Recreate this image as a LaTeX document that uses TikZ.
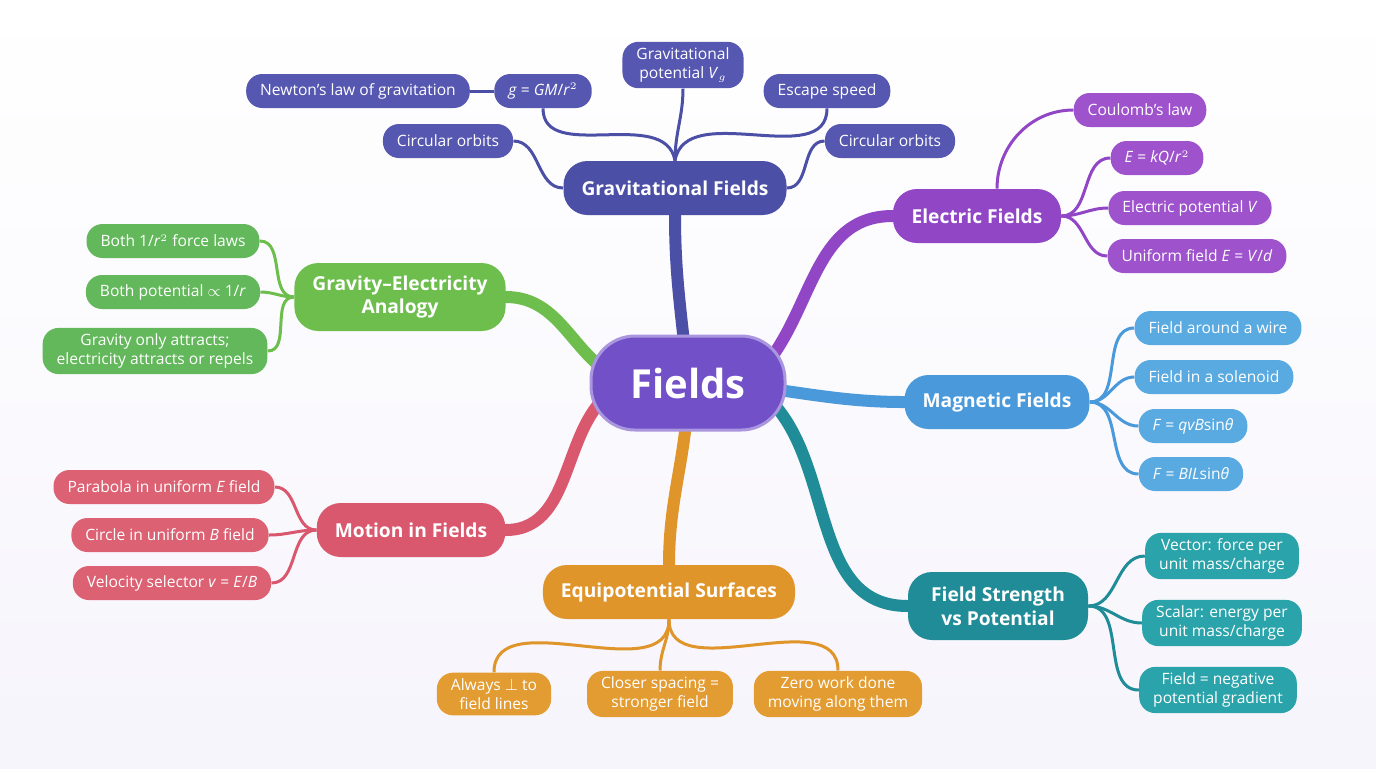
\documentclass[tikz,border=0pt]{standalone}
\usepackage{fontspec}
\setmainfont{Open Sans}
\usetikzlibrary{backgrounds}
\definecolor{cgrav}{HTML}{4C4FA6}\definecolor{lgrav}{HTML}{5557B0}
\definecolor{celec}{HTML}{9146C6}\definecolor{lelec}{HTML}{9E52CC}
\definecolor{cmag}{HTML}{4A9ADB}\definecolor{lmag}{HTML}{5AAAE2}
\definecolor{cfs}{HTML}{1F8C98}\definecolor{lfs}{HTML}{2BA3AA}
\definecolor{ceq}{HTML}{E0952A}\definecolor{leq}{HTML}{E39C32}
\definecolor{cmot}{HTML}{D9586E}\definecolor{lmot}{HTML}{DB6173}
\definecolor{cana}{HTML}{6DBE4D}\definecolor{lana}{HTML}{62B85A}
\definecolor{ccen}{HTML}{7150C8}
\tikzset{
 leaf/.style={fill=#1,text=white,rounded corners=8pt,inner xsep=7pt,inner ysep=3pt,minimum height=17pt,align=center,font=\fontsize{7.8}{9.3}\selectfont},
 main/.style={fill=#1,text=white,rounded corners=12pt,inner xsep=9pt,minimum height=27pt,align=center,font=\fontsize{9.6}{11.8}\selectfont\bfseries},
 br/.style={draw=#1,line width=6pt,line cap=round},
 lk/.style={draw=#1,line width=1.5pt},
}
\begin{document}
\begin{tikzpicture}[x=0.5pt,y=-0.5pt]
\node[fill=ccen,text=white,rounded corners=22pt,minimum width=97pt,minimum height=47pt,font=\fontsize{20}{24}\selectfont\bfseries,draw=ccen!60!white,line width=1.5pt] (c) at (688,383) {Fields};
% main
\node[main=cgrav,minimum width=110pt] (grav) at (675,188) {Gravitational Fields};
\node[main=celec,minimum width=84pt] (elec) at (977,216) {Electric Fields};
\node[main=cmag,minimum width=90pt] (mag) at (997,402) {Magnetic Fields};
\node[main=cfs,minimum width=90pt,minimum height=34pt] (fs) at (998,606) {Field Strength\\vs Potential};
\node[main=ceq,minimum width=123pt] (eq) at (669,592) {Equipotential Surfaces};
\node[main=cmot,minimum width=94pt] (mot) at (411,530) {Motion in Fields};
\node[main=cana,minimum width=104pt,minimum height=34pt] (ana) at (400,297) {Gravity–Electricity\\Analogy};
% grav leaves
\node[leaf=lgrav] (g0) at (358,91) {Newton’s law of gravitation};
\node[leaf=lgrav] (g1) at (543,91) {\textit{g} = \textit{GM}/\textit{r}$^2$};
\node[leaf=lgrav] (g2) at (683,65) {Gravitational\\potential \textit{V}$_g$};
\node[leaf=lgrav] (g3) at (827,91) {Escape speed};
\node[leaf=lgrav] (g4) at (448,141) {Circular orbits};
\node[leaf=lgrav] (g5) at (890,141) {Circular orbits};
% elec
\node[leaf=lelec] (e1) at (1140,110) {Coulomb’s law};
\node[leaf=lelec] (e2) at (1157,158) {\textit{E} = \textit{kQ}/\textit{r}$^2$};
\node[leaf=lelec] (e3) at (1190,208) {Electric potential \textit{V}};
\node[leaf=lelec] (e4) at (1197,256) {Uniform field \textit{E} = \textit{V}/\textit{d}};
% mag
\node[leaf=lmag] (m1) at (1218,328) {Field around a wire};
\node[leaf=lmag] (m2) at (1214,377) {Field in a solenoid};
\node[leaf=lmag] (m3) at (1193,426) {\textit{F} = \textit{qvB}sin\textit{θ}};
\node[leaf=lmag] (m4) at (1191,474) {\textit{F} = \textit{BIL}sin\textit{θ}};
% fs
\node[leaf=lfs] (f1) at (1222,556) {Vector: force per\\unit mass/charge};
\node[leaf=lfs] (f2) at (1222,623) {Scalar: energy per\\unit mass/charge};
\node[leaf=lfs] (f3) at (1218,690) {Field = negative\\potential gradient};
% eq
\node[leaf=leq] (q1) at (494,694) {Always $\perp$ to\\field lines};
\node[leaf=leq] (q2) at (660,694) {Closer spacing =\\stronger field};
\node[leaf=leq] (q3) at (838,694) {Zero work done\\moving along them};
% mot
\node[leaf=lmot] (t1) at (164,487) {Parabola in uniform \textit{E} field};
\node[leaf=lmot] (t2) at (170,535) {Circle in uniform \textit{B} field};
\node[leaf=lmot] (t3) at (172,583) {Velocity selector \textit{v} = \textit{E}/\textit{B}};
% ana
\node[leaf=lana] (a1) at (173,241) {Both 1/\textit{r}$^2$ force laws};
\node[leaf=lana] (a2) at (173,292) {Both potential $\propto$ 1/\textit{r}};
\node[leaf=lana] (a3) at (155,351) {Gravity only attracts;\\electricity attracts or repels};
\begin{scope}[on background layer]
\fill[top color=white,bottom color=ccen!6!white] (0,0) rectangle (1376,768);
\draw[br=cgrav] (c.center) to[out=95,in=-90] (grav.south);
\draw[br=celec] ([xshift=30pt]c.center) to[out=40,in=180] (elec.west);
\draw[br=cmag] (c.center) to[out=0,in=180] (mag.west);
\draw[br=cfs] ([xshift=30pt]c.center) to[out=-30,in=180] (fs.west);
\draw[br=ceq] (c.center) to[out=-90,in=90] (eq.north);
\draw[br=cmot] ([xshift=-30pt]c.center) to[out=200,in=0] (mot.east);
\draw[br=cana] ([xshift=-30pt]c.center) to[out=160,in=0] (ana.east);
\draw[lk=cgrav] (g0.east) -- (g1.west);
\draw[lk=cgrav] (grav.north) to[out=100,in=-90] (g1.south);
\draw[lk=cgrav] (grav.north) to[out=90,in=-90] (g2.south);
\draw[lk=cgrav] (grav.north) to[out=80,in=-90] (g3.south);
\draw[lk=cgrav] (grav.west) to[out=180,in=0] (g4.east);
\draw[lk=cgrav] (grav.east) to[out=0,in=180] (g5.west);
\draw[lk=celec] ([xshift=10pt]elec.north) to[out=90,in=180] (e1.west);
\foreach \n in {e2,e3,e4} \draw[lk=celec] (elec.east) to[out=0,in=180] (\n.west);
\foreach \n in {m1,m2,m3,m4} \draw[lk=cmag] (mag.east) to[out=0,in=180] (\n.west);
\foreach \n in {f1,f2,f3} \draw[lk=cfs] (fs.east) to[out=0,in=180] (\n.west);
\foreach \n in {q1,q2,q3} \draw[lk=ceq] (eq.south) to[out=-90,in=90] (\n.north);
\foreach \n in {t1,t2,t3} \draw[lk=cmot] (mot.west) to[out=180,in=0] (\n.east);
\foreach \n in {a1,a2,a3} \draw[lk=cana] (ana.west) to[out=180,in=0] (\n.east);
\end{scope}
\end{tikzpicture}
\end{document}
